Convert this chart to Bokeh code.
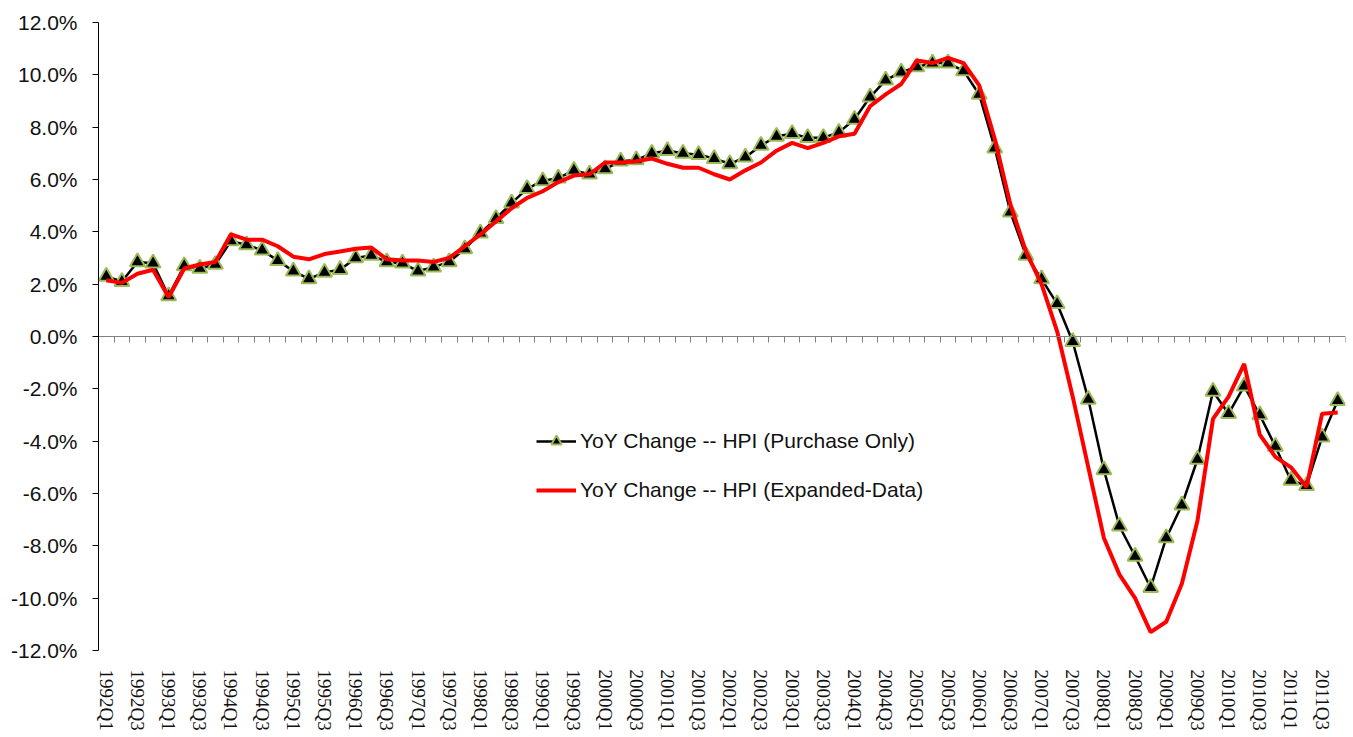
import numpy as np
from bokeh.plotting import figure
from bokeh.models import (Range1d, FixedTicker, LinearAxis, CustomJSTickFormatter,
                          PrintfTickFormatter, Legend, LegendItem, ColumnDataSource)
from bokeh.embed import file_html
from bokeh.resources import INLINE

# ---------------- data ----------------
quarters = [f"{y}Q{q}" for y in range(1992, 2012) for q in range(1, 5)]

purchase_only = [
    2.3, 2.1, 2.85, 2.8, 1.55, 2.7, 2.6, 2.75,        # 1992-1993
    3.65, 3.5, 3.3, 2.9, 2.5, 2.2, 2.45, 2.55,        # 1994-1995
    3.0, 3.1, 2.85, 2.8, 2.5, 2.65, 2.85, 3.35,       # 1996-1997
    3.95, 4.5, 5.1, 5.65, 5.95, 6.05, 6.35, 6.2,      # 1998-1999
    6.4, 6.7, 6.75, 7.0, 7.1, 7.0, 6.95, 6.8,         # 2000-2001
    6.6, 6.85, 7.3, 7.65, 7.75, 7.6, 7.6, 7.8,        # 2002-2003
    8.3, 9.15, 9.8, 10.1, 10.3, 10.45, 10.45, 10.15,  # 2004-2005
    9.25, 7.2, 4.75, 3.1, 2.2, 1.25, -0.2, -2.4,      # 2006-2007
    -5.1, -7.25, -8.4, -9.6, -7.7, -6.45, -4.7, -2.1, # 2008-2009
    -2.95, -1.9, -3.0, -4.2, -5.5, -5.7, -3.85, -2.45 # 2010-2011
]

expanded_data = [
    2.15, 2.05, 2.4, 2.55, 1.5, 2.6, 2.75, 2.85,
    3.9, 3.7, 3.7, 3.45, 3.05, 2.95, 3.15, 3.25,
    3.35, 3.4, 2.95, 2.9, 2.9, 2.85, 3.0, 3.45,
    3.9, 4.4, 4.9, 5.3, 5.55, 5.9, 6.15, 6.2,
    6.65, 6.65, 6.7, 6.8, 6.6, 6.45, 6.45, 6.2,
    6.0, 6.35, 6.65, 7.1, 7.4, 7.2, 7.4, 7.65,
    7.75, 8.8, 9.25, 9.65, 10.55, 10.45, 10.65, 10.45,
    9.6, 7.55, 5.05, 3.25, 2.0, 0.2, -2.3, -5.0,
    -7.7, -9.1, -10.0, -11.3, -10.9, -9.45, -7.05, -3.15,
    -2.3, -1.05, -3.75, -4.6, -5.0, -5.75, -2.95, -2.9
]

y_ticks = list(range(-12, 13, 2))
series_names = ["YoY Change -- HPI (Purchase Only)", "YoY Change -- HPI (Expanded-Data)"]

# ---------------- figure ----------------
n = len(quarters)
x = np.arange(n) + 0.5
src = ColumnDataSource(dict(x=x, po=purchase_only, exp=expanded_data))

p = figure(width=1349, height=737,
           x_range=Range1d(0, n), y_range=Range1d(-12, 12),
           x_axis_type=None, y_axis_type=None,
           output_backend="svg", toolbar_location=None,
           min_border_left=98, min_border_right=4,
           min_border_top=22, min_border_bottom=87)
p.outline_line_color = None
p.xgrid.visible = False
p.ygrid.visible = False
p.background_fill_color = "white"
p.border_fill_color = "white"

SERIF = "'Liberation Serif', 'Times New Roman', serif"
SANS = "'Liberation Sans', Arial, sans-serif"

# y axis
yaxis = LinearAxis(ticker=FixedTicker(ticks=y_ticks),
                   formatter=PrintfTickFormatter(format="%.1f%%"),
                   major_tick_out=6, major_tick_in=0,
                   minor_tick_out=0, minor_tick_in=0,
                   axis_line_color="black", major_tick_line_color="black",
                   major_label_text_font=SANS,
                   major_label_text_font_size="21px",
                   major_label_text_color="#111111",
                   major_label_standoff=15)
p.add_layout(yaxis, "left")

# bottom labels axis (labels only)
xlab = LinearAxis(ticker=FixedTicker(ticks=[i + 0.5 for i in range(0, n, 2)]),
                  formatter=CustomJSTickFormatter(args=dict(labels=quarters), code="""
                      const i = Math.floor(tick);
                      return (i >= 0 && i < labels.length) ? labels[i] : '';
                  """),
                  major_label_orientation="vertical",
                  axis_line_color=None, major_tick_line_color=None,
                  minor_tick_line_color=None,
                  major_tick_out=0, major_tick_in=0,
                  minor_tick_out=0, minor_tick_in=0,
                  major_label_standoff=19,
                  major_label_text_font=SERIF,
                  major_label_text_font_size="19px",
                  major_label_text_color="#111111")
p.add_layout(xlab, "below")

# zero-line axis with category boundary ticks
xzero = LinearAxis(ticker=FixedTicker(ticks=list(range(0, n + 1))),
                   formatter=CustomJSTickFormatter(code="return '';"),
                   fixed_location=0,
                   axis_line_color="#808080", major_tick_line_color="#808080",
                   major_tick_out=6, major_tick_in=0,
                   minor_tick_out=0, minor_tick_in=0,
                   major_label_text_font_size="0px")
p.add_layout(xzero, "below")

# series
l_po = p.line("x", "po", source=src, line_color="black", line_width=2.5)
s_po = p.scatter("x", "po", source=src, marker="triangle", size=15,
                 fill_color="black", line_color="#9BBB59", line_width=2)
l_exp = p.line("x", "exp", source=src, line_color="#FF0000", line_width=4)

legend = Legend(items=[LegendItem(label=series_names[0], renderers=[l_po, s_po]),
                       LegendItem(label=series_names[1], renderers=[l_exp])],
                location=(438, 147), padding=0, margin=0,
                glyph_width=40, glyph_height=26, label_height=26,
                label_standoff=4, spacing=23,
                label_text_font=SANS, label_text_font_size="21px",
                label_text_color="#111111",
                border_line_color=None, background_fill_alpha=0)
p.add_layout(legend)

open("out.html", "w").write(file_html(p, INLINE))
